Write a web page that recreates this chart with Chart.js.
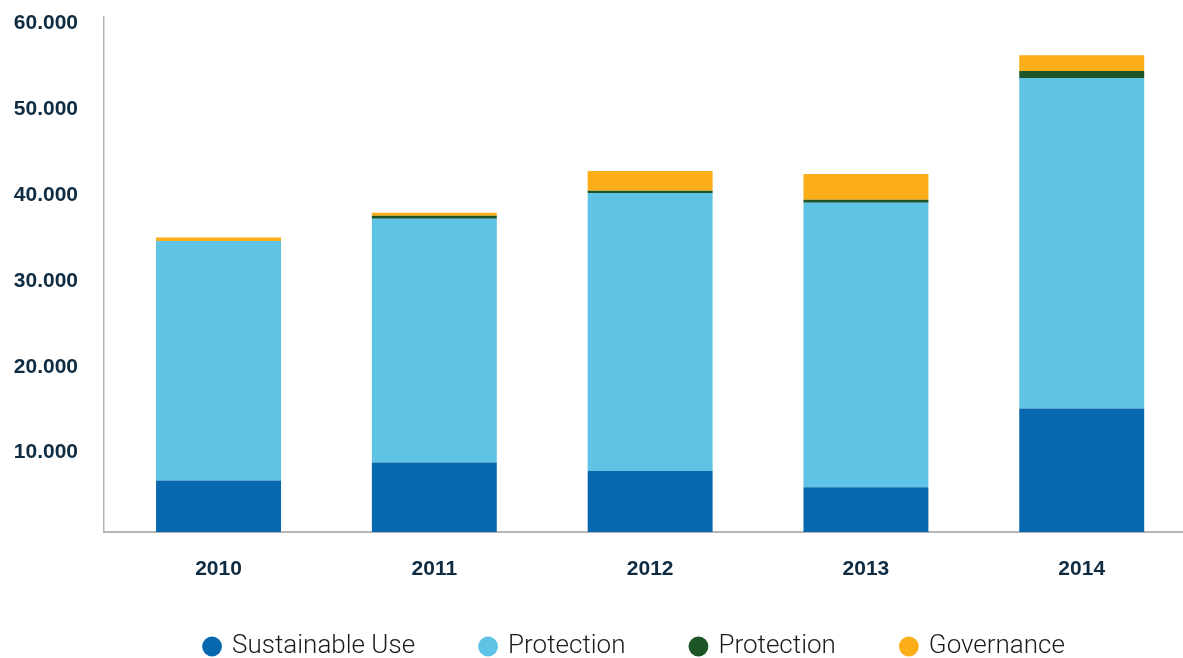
<!DOCTYPE html>
<html>
<head>
<meta charset="utf-8">
<script src="https://cdn.jsdelivr.net/npm/chart.js@4/dist/chart.umd.min.js"></script>
<style>
  html, body { margin: 0; padding: 0; background: #fff; overflow: hidden; }
  #wrap { width: 1183px; height: 658px; position: relative; }
</style>
</head>
<body>
<div id="wrap"><canvas id="c"></canvas></div>
<script>
const years = ['2010', '2011', '2012', '2013', '2014'];
const sustainableUse = [6000, 8100, 7100, 5200, 14400];
const protectionLight = [27900, 28400, 32400, 33150, 38500];
const protectionDark = [0, 350, 250, 350, 800];
const governance = [400, 350, 2300, 3000, 1850];
const yTicks = [10000, 20000, 30000, 40000, 50000, 60000];

const seriesNames = ['Sustainable Use', 'Protection', 'Protection', 'Governance'];
const seriesColors = ['#0868AF', '#5FC3E5', '#1D5527', '#FBAE17'];
const seriesValues = [sustainableUse, protectionLight, protectionDark, governance];

const toPoints = arr => arr.map((v, i) => ({ x: i, y: v }));

const datasets = seriesValues.map((vals, k) => ({
  label: seriesNames[k],
  data: toPoints(vals),
  backgroundColor: seriesColors[k],
  borderWidth: 0,
  categoryPercentage: 1,
  barPercentage: 0.579
}));

const fmt = v => String(v).replace(/\B(?=(\d{3})+(?!\d))/g, '.');
const tickFont = { family: 'Liberation Sans', weight: 'bold', size: 21 };
const tickColor = '#0f2c42';

new Chart(document.getElementById('c'), {
  type: 'bar',
  data: { datasets },
  options: {
    responsive: true,
    maintainAspectRatio: false,
    animation: false,
    layout: { padding: { left: 10, right: -77, top: 17, bottom: -11.5 } },
    plugins: {
      tooltip: { enabled: false },
      legend: {
        position: 'bottom',
        align: 'center',
        labels: {
          usePointStyle: true,
          pointStyle: 'circle',
          boxWidth: 14,
          boxHeight: 14,
          padding: 66,
          color: '#1b1b1b',
          font: { family: 'Roboto', weight: '300', size: 26 }
        }
      }
    },
    scales: {
      x: {
        type: 'linear',
        stacked: true,
        offset: false,
        min: -0.5307,
        max: 4.4693,
        grid: { display: false, drawTicks: false },
        border: { display: true, color: '#b5b5b5', width: 2 },
        afterFit: s => { s.height = 35.5; },
        afterBuildTicks: s => { s.ticks = years.map((_, i) => ({ value: i })); },
        ticks: {
          autoSkip: false,
          maxRotation: 0,
          mirror: true,
          padding: -49.6,
          color: tickColor,
          font: tickFont,
          callback: (v, i) => years[i]
        }
      },
      y: {
        stacked: true,
        min: 0,
        max: 60000,
        grid: { display: false, drawTicks: true, tickLength: 22 },
        border: { display: true, color: '#b5b5b5', width: 1.5 },
        afterFit: s => { s.width = 94; },
        afterBuildTicks: s => { s.ticks = yTicks.map(v => ({ value: v })); },
        ticks: {
          padding: 4,
          labelOffset: 6.5,
          color: tickColor,
          font: tickFont,
          callback: v => fmt(v)
        }
      }
    }
  }
});
</script>
</body>
</html>
